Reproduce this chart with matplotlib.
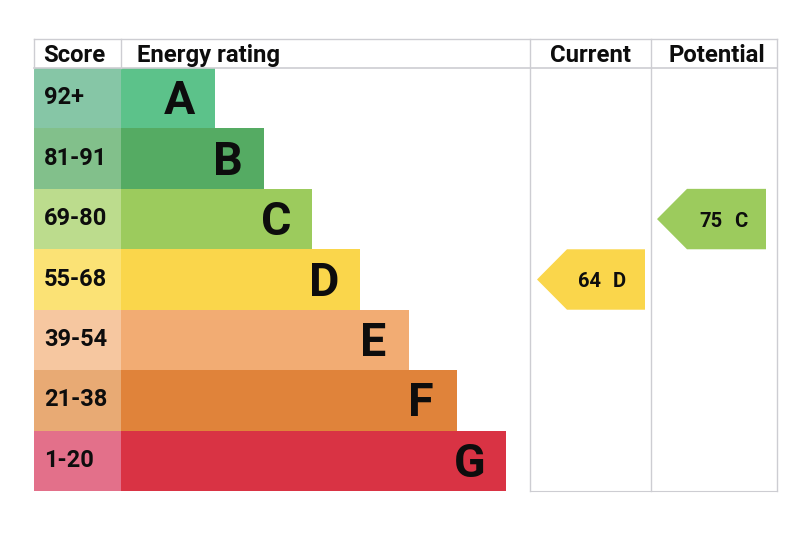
import matplotlib
matplotlib.use('Agg')
import matplotlib.pyplot as plt
from matplotlib.patches import Polygon

# --- DATA ---
ratings = ['A', 'B', 'C', 'D', 'E', 'F', 'G']
scores = ['92+', '81-91', '69-80', '55-68', '39-54', '21-38', '1-20']
bar_lengths = [94, 143, 191, 239, 288, 336, 385]
bar_colors = ['#5cc28a', '#55ab63', '#9ccb5d', '#fad64b', '#f2ac73', '#e0833a', '#d93344']
score_colors = ['#86c6a6', '#82c08b', '#bcdc8d', '#fbe275', '#f6c7a0', '#e8aa74', '#e3708a']

headers = ['Score', 'Energy rating', 'Current', 'Potential']
current_value = 64
current_rating = 'D'
potential_value = 75
potential_rating = 'C'

# --- LAYOUT (pixels) ---
left, score_right, rating_right, current_right, right = 34, 121, 529.5, 651, 777
top, head_bottom, bottom = 39, 68, 491
row_h = (bottom - head_bottom) / len(ratings)
line_col = '#cdcdd2'
text_col = '#0d0d0d'
font = 'Roboto'

fig = plt.figure(figsize=(8, 5.37), dpi=100)
ax = fig.add_axes([0, 0, 1, 1])
ax.set_xlim(0, 800)
ax.set_ylim(537, 0)
ax.axis('off')

# rows
ys = [head_bottom + row_h * (i + 0.5) for i in range(len(ratings))]
ax.barh(ys, [score_right - left] * len(ratings), height=row_h, left=left, color=score_colors, linewidth=0)
ax.barh(ys, bar_lengths, height=row_h, left=score_right, color=bar_colors, linewidth=0)

for y, s, r, w in zip(ys, scores, ratings, bar_lengths):
    ax.text(44, y - 0.5, s, fontsize=17, fontweight='bold', family=font, color=text_col,
            ha='left', va='center')
    ax.text(score_right + w - 36, y + 3, r, fontsize=33.5, fontweight='bold', family=font,
            color=text_col, ha='center', va='center')

# grid lines
ax.plot([left, right], [top, top], color=line_col, lw=1)
ax.plot([left, right], [head_bottom, head_bottom], color=line_col, lw=1.2)
ax.plot([left, left], [top, head_bottom], color=line_col, lw=1)
ax.plot([score_right, score_right], [top, head_bottom], color=line_col, lw=1)
for x in (rating_right, current_right, right):
    ax.plot([x, x], [top, bottom], color=line_col, lw=1)
ax.plot([rating_right, right], [bottom, bottom], color=line_col, lw=0.8)

# headers
ax.text(74.5, 62, headers[0], fontsize=17.2, fontweight='bold', family=font, color=text_col, ha='center', va='baseline')
ax.text(137, 62, headers[1], fontsize=17.2, fontweight='bold', family=font, color=text_col, ha='left', va='baseline')
ax.text(590.5, 62, headers[2], fontsize=17.2, fontweight='bold', family=font, color=text_col, ha='center', va='baseline')
ax.text(717, 62, headers[3], fontsize=17.2, fontweight='bold', family=font, color=text_col, ha='center', va='baseline')


def draw_arrow(x0, x1, value, rating):
    i = ratings.index(rating)
    y = ys[i]
    h = row_h / 2
    pts = [(x0, y), (x0 + 30, y - h), (x1, y - h), (x1, y + h), (x0 + 30, y + h)]
    ax.add_patch(Polygon(pts, closed=True, facecolor=bar_colors[i], edgecolor='none'))
    ax.text(x1 - 67, y + 2, str(value), fontsize=14.5, fontweight='bold', family=font,
            color=text_col, ha='left', va='center')
    ax.text(x1 - 19, y + 2, rating, fontsize=14.5, fontweight='bold', family=font,
            color=text_col, ha='right', va='center')


draw_arrow(537, 645, current_value, current_rating)
draw_arrow(657, 766, potential_value, potential_rating)

fig.savefig('out.png', dpi=100, facecolor='white')
